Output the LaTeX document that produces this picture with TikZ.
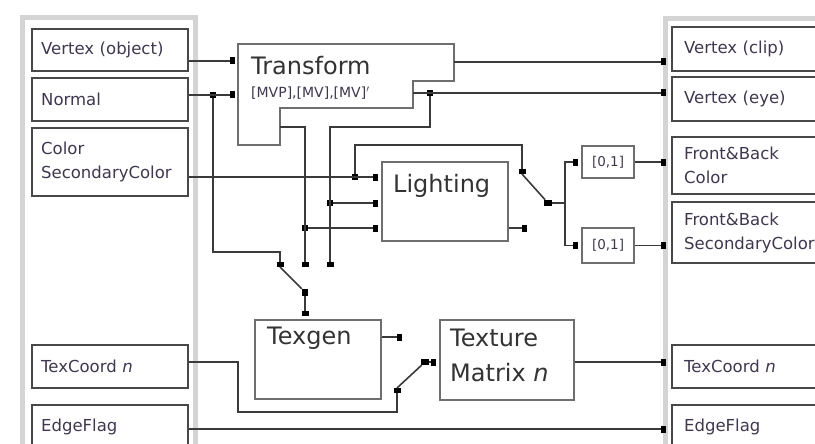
\documentclass[tikz,border=0pt]{standalone}
\usepackage{fontspec}
\setsansfont{DejaVu Sans}
\usepackage{tikz}
\usetikzlibrary{arrows.meta,positioning,calc}
\definecolor{panelgray}{HTML}{D4D4D4}
\definecolor{boxline}{HTML}{484848}
\definecolor{stageline}{HTML}{6E6E6E}
\definecolor{wirecol}{HTML}{3A3A3A}
\definecolor{labelcol}{HTML}{40384E}
\tikzset{
  panel/.style={draw=panelgray,line width=5pt},
  iobox/.style={draw=boxline,line width=2.4pt,fill=white,anchor=north west,inner xsep=9pt,inner ysep=0pt,text width=138pt,align=left,font=\sffamily\fontsize{16.5}{24}\selectfont,text=labelcol},
  stage/.style={draw=stageline,line width=2.2pt,fill=white},
  stagelabel/.style={font=\sffamily\fontsize{24}{35}\selectfont,text=black!80,align=left,inner sep=0pt},
  clampbox/.style={draw=stageline,line width=2.2pt,fill=white,minimum width=52pt,font=\sffamily\fontsize{13.5}{15}\selectfont,text=labelcol,inner sep=0pt,anchor=north west},
  wire/.style={draw=wirecol,line width=1.6pt},
  tip/.style={wire,-{Rectangle[length=5pt,width=7pt,black]}},
  arrow/.style={tip,shorten >=3pt},
  outshort/.style={shorten >=5pt},
  junction/.style={fill=black,minimum size=6pt,inner sep=0pt}
}
\begin{document}
\begin{tikzpicture}[x=1pt,y=-1pt]
  \useasboundingbox (0,0) rectangle (815,444);
  \clip (0,0) rectangle (815,444);

  \draw[panel] (22.5,17.5) rectangle (195.5,470);
  \draw[panel] (665.5,18.5) rectangle (840,470);

  % inputs
  \node[iobox,minimum height=42pt] (vobj) at (31,28) {Vertex (object)};
  \node[iobox,minimum height=43pt] (normal) at (31,77) {Normal};
  \node[iobox,minimum height=68pt] (color) at (31,127) {Color\\SecondaryColor};
  \node[iobox,minimum height=43pt] (texin) at (31,344) {TexCoord \textit{n}};
  \node[iobox,minimum height=43pt] (edgein) at (31,404) {EdgeFlag};

  % outputs
  \node[iobox,text width=170pt,inner xsep=12pt,minimum height=44pt] (vclip) at (671,26) {Vertex (clip)};
  \node[iobox,text width=170pt,inner xsep=12pt,minimum height=44pt] (veye) at (671,76) {Vertex (eye)};
  \node[iobox,text width=170pt,inner xsep=12pt,minimum height=57pt] (fbcolor) at (671,136) {Front\&Back\\Color};
  \node[iobox,text width=170pt,inner xsep=12pt,minimum height=61pt] (fbsec) at (671,201) {Front\&Back\\SecondaryColor};
  \node[iobox,text width=170pt,inner xsep=12pt,minimum height=43pt] (texout) at (671,344) {TexCoord \textit{n}};
  \node[iobox,text width=170pt,inner xsep=12pt,minimum height=43pt] (edgeout) at (671,404) {EdgeFlag};

  % stages
  \draw[stage] (238,44) -- (454,44) -- (454,81) -- (413,81) -- (413,108) -- (280,108) -- (280,145) -- (238,145) -- cycle;
  \node[stagelabel,anchor=west] (tf) at (251,66) {Transform};
  \node[anchor=west,inner sep=0pt,font=\sffamily\fontsize{14}{16}\selectfont,text=labelcol] (tfsub) at (251,93) {[MVP],[MV],[MV]$'$};
  \coordinate (tfvin) at (238,61);
  \coordinate (tfnin) at (238,95);
  \coordinate (tfclip) at (454,62);
  \coordinate (tfeye) at (413,93);
  \coordinate (tflow) at (280,127);

  \node[stage,anchor=north west,minimum width=126pt,minimum height=79pt] (light) at (381,161) {};
  \node[stagelabel,anchor=north west] at (393,174) {Lighting};
  \node[stage,anchor=north west,minimum width=126pt,minimum height=79pt] (texgen) at (254,319) {};
  \node[stagelabel,anchor=north west] at (267,327) {Texgen};
  \node[stage,anchor=north west,minimum width=134pt,minimum height=80pt] (texmat) at (439,319) {};
  \node[stagelabel,anchor=north west] at (450,329) {Texture\\Matrix \textit{n}};

  \node[clampbox,minimum height=32pt] (clampa) at (581,145) {[0,1]};
  \node[clampbox,minimum height=35pt] (clampb) at (581,227) {[0,1]};

  % switch terminals and poles
  \coordinate (tga) at (280,267);
  \coordinate (tgb) at (305,267);
  \coordinate (tgc) at (330,267);
  \coordinate (csa) at (522,174);
  \coordinate (csb) at (527,228);
  \coordinate (cs) at (565,203);
  \coordinate (xsa) at (402,337);
  \coordinate (xsb) at (397,388);
  \coordinate (tcb) at (238,362);
  \coordinate (ef) at (188,429);

  \node[junction] (nj) at (213,95) {};
  \node[junction] (ej) at (430,93) {};
  \node[junction] (lja) at (355,177) {};
  \node[junction] (ljb) at (330,203) {};
  \node[junction] (ljc) at (305,228) {};
  \node[junction,minimum width=6pt,minimum height=7pt] (tgp) at (305,292) {};
  \node[junction,minimum width=8pt,minimum height=6pt] (cp) at (548,203) {};
  \node[junction,minimum width=8pt,minimum height=6pt] (xp) at (425,362) {};

  % wires
  \draw[arrow] (vobj.east |- tfvin) -- (tfvin);
  \draw[arrow] (normal.east |- tfnin) -- (tfnin);
  \draw[arrow,outshort] (tfclip) -- (tfclip -| vclip.west);
  \draw[arrow,outshort] (tfeye) -- (tfeye -| veye.west);

  \draw[tip] (nj) |- (280,252) -- (tga);
  \draw[tip] (tflow) -| (tgb);
  \draw[tip] (ej) |- (330,127) -- (tgc);
  \draw[wire] (tga) -- (tgp);
  \draw[arrow] (tgp) -- (tgp |- texgen.north);

  \draw[arrow] (color.east |- lja) -- (lja -| light.west);
  \draw[arrow] (ljb) -- (ljb -| light.west);
  \draw[arrow] (ljc) -- (ljc -| light.west);
  \draw[tip] (lja) |- (522,145) -- (csa);
  \draw[tip] (light.east |- csb) -- (csb);
  \draw[wire] (csa) -- (cp);
  \draw[wire] (cp) -- (cs);
  \draw[arrow] (cs) |- (clampa.west);
  \draw[arrow] (cs) |- (clampb.west);
  \draw[arrow,outshort] (clampa.east) -- (clampa.east -| fbcolor.west);
  \draw[arrow,outshort] (clampb.east) -- (clampb.east -| fbsec.west);

  \draw[tip] (texgen.east |- xsa) -- (xsa);
  \draw[tip] (texin.east |- tcb) -| (238,412) -| (xsb);
  \draw[wire] (xsb) -- (xp);
  \draw[arrow] (xp) -- (xp -| texmat.west);
  \draw[arrow,outshort] (texmat.east |- xp) -- (xp -| texout.west);
  \draw[arrow,outshort] (edgein.east |- ef) -- (ef -| edgeout.west);
\end{tikzpicture}
\end{document}
